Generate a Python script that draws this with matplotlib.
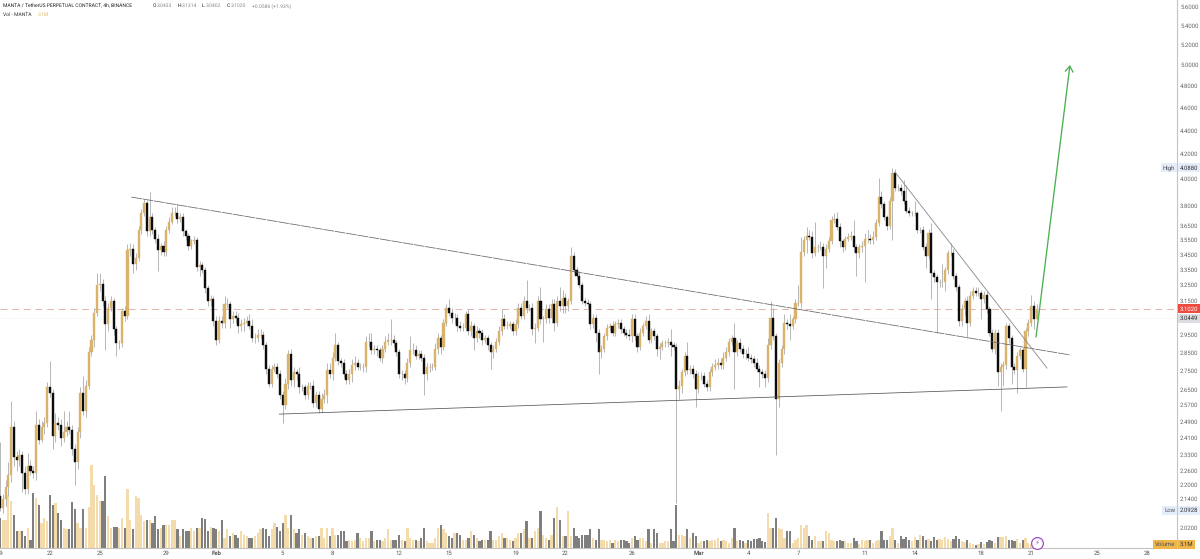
import numpy as np
import matplotlib
matplotlib.use('Agg')
import matplotlib.pyplot as plt

plt.rcParams['font.family'] = ['Roboto', 'DejaVu Sans']
# tiny labels lose their decimal points when hinted
plt.rcParams['text.hinting'] = 'no_hinting'
plt.rcParams['text.hinting_factor'] = 1

# MANTA/USDT 4h closes, six candles a day starting at 19 Jan 00:00
closes = [
  2.10,2.14,2.19,2.24,2.46,2.32,2.31,2.33,2.25,2.18,
  2.28,2.26,2.25,2.47,2.40,2.46,2.48,2.66,2.63,2.42,
  2.48,2.47,2.41,2.44,2.46,2.45,2.36,2.30,2.44,2.63,
  2.54,2.67,2.85,2.92,3.08,3.25,3.26,3.15,3.01,3.11,
  3.15,2.98,2.90,2.90,3.09,3.06,3.48,3.49,3.39,3.43,
  3.62,3.74,3.82,3.61,3.71,3.62,3.56,3.48,3.51,3.47,
  3.62,3.68,3.74,3.74,3.70,3.71,3.61,3.58,3.51,3.54,
  3.55,3.37,3.38,3.35,3.23,3.15,3.16,3.03,2.92,3.03,
  3.02,3.13,3.13,3.04,3.06,3.05,3.00,3.01,3.02,3.03,
  3.00,2.93,2.93,2.95,2.95,2.89,2.76,2.68,2.76,2.77,
  2.73,2.62,2.57,2.68,2.84,2.70,2.74,2.73,2.66,2.66,
  2.62,2.67,2.67,2.58,2.62,2.55,2.60,2.62,2.75,2.73,
  2.82,2.89,2.80,2.79,2.73,2.70,2.73,2.78,2.79,2.77,
  2.77,2.77,2.91,2.91,2.86,2.87,2.86,2.82,2.87,2.91,
  2.92,2.92,2.90,2.85,2.73,2.73,2.71,2.79,2.86,2.86,
  2.83,2.84,2.82,2.73,2.77,2.77,2.77,2.87,2.93,2.88,
  3.02,3.11,3.08,3.05,3.05,3.00,2.99,2.99,3.07,2.97,
  3.00,2.93,2.97,2.96,2.92,2.93,2.89,2.85,2.87,2.91,
  2.97,3.04,3.00,3.00,3.01,2.97,3.01,3.11,3.06,3.15,
  3.11,3.11,2.98,2.99,3.15,3.04,3.04,3.10,3.05,3.13,
  3.02,3.15,3.12,3.17,3.12,3.15,3.44,3.35,3.31,3.25,
  3.15,3.14,3.13,3.01,3.05,2.96,2.85,2.87,2.94,2.99,
  3.00,2.96,3.01,3.02,2.98,2.96,2.95,2.94,3.04,2.94,
  2.88,2.96,3.00,3.03,2.92,2.97,2.94,2.87,2.88,2.90,
  2.90,2.91,2.89,2.88,2.65,2.67,2.74,2.83,2.75,2.76,
  2.73,2.65,2.72,2.72,2.68,2.66,2.74,2.77,2.78,2.79,
  2.78,2.82,2.85,2.91,2.93,2.85,2.90,2.87,2.84,2.84,
  2.82,2.81,2.79,2.76,2.74,2.73,2.71,2.89,3.05,2.94,
  2.60,2.79,2.87,3.02,3.01,3.00,3.04,3.14,3.14,3.47,
  3.55,3.58,3.57,3.46,3.50,3.50,3.50,3.44,3.49,3.54,
  3.69,3.70,3.64,3.54,3.50,3.56,3.57,3.58,3.50,3.46,
  3.50,3.51,3.56,3.56,3.55,3.57,3.67,3.86,3.81,3.71,
  3.65,3.83,4.05,3.93,3.93,3.91,3.83,3.76,3.74,3.74,
  3.74,3.62,3.62,3.50,3.44,3.60,3.33,3.30,3.27,3.27,
  3.27,3.35,3.46,3.46,3.31,3.24,3.03,3.10,3.15,3.02,
  3.18,3.21,3.20,3.20,3.16,3.19,3.10,2.96,2.87,2.96,
  2.74,2.77,2.78,3.00,2.93,2.77,2.75,2.83,2.86,2.76,
  2.97,3.02,3.12,3.043,3.102]
first_open = 2.15

# wick lengths above and below the body, in hundredths of a dollar
wick_up = [
  24,2,3,6,13,3,3,3,2,3,
  6,3,2,7,3,3,3,3,14,2,
  5,3,3,10,3,8,2,2,2,3,
  9,3,3,3,3,8,7,3,3,3,
  3,2,2,2,2,3,4,4,3,3,
  3,3,3,2,19,3,2,3,2,3,
  3,3,5,5,7,3,3,2,2,2,
  3,2,3,2,2,2,3,2,3,3,
  3,5,4,2,3,3,3,3,3,3,
  4,4,3,3,3,2,2,2,2,2,
  2,2,2,3,2,3,3,2,4,2,
  2,2,2,3,2,2,3,3,4,4,
  3,7,2,2,2,2,3,3,4,2,
  2,2,3,5,5,2,2,2,2,3,
  4,12,3,2,2,2,2,3,8,4,
  3,2,2,2,2,2,2,3,3,2,
  2,2,5,3,3,2,3,3,2,3,
  3,2,3,2,2,2,2,2,2,2,
  3,6,3,3,2,2,3,3,3,3,
  13,2,3,3,3,9,2,3,3,3,
  3,3,9,5,3,2,6,3,2,3,
  2,2,2,2,2,2,2,2,2,2,
  2,3,2,2,2,2,2,3,3,3,
  2,3,2,3,4,2,2,2,2,2,
  2,2,7,2,2,3,2,2,8,2,
  2,2,2,2,2,2,2,2,3,3,
  3,3,3,2,2,9,2,3,2,3,
  4,2,2,3,2,2,2,4,10,6,
  2,2,2,5,2,6,2,2,11,10,
  3,6,4,4,18,2,4,3,3,3,
  3,4,5,3,2,2,3,3,11,2,
  2,3,4,6,3,4,3,15,5,2,
  2,3,4,3,3,3,8,12,3,2,
  9,2,2,3,3,3,7,2,2,2,
  12,2,2,7,3,2,2,3,2,3,
  3,3,3,4,2,2,2,2,2,2,
  2,2,2,2,2,2,2,2,2,2,
  2,2,7,3,3]
wick_dn = [
  1,2,3,4,3,4,5,3,8,2,
  2,2,2,3,2,1,3,2,2,6,
  3,2,4,2,2,2,3,10,3,3,
  2,3,2,2,4,2,4,3,15,4,
  2,3,7,3,2,3,2,4,6,4,
  2,3,2,3,3,3,3,14,3,3,
  3,2,2,2,3,2,3,3,3,2,
  2,3,6,2,3,3,3,3,3,2,
  3,3,2,5,2,3,4,3,4,2,
  2,2,3,2,2,2,3,2,2,2,
  2,2,9,2,3,3,4,3,3,2,
  2,2,2,2,2,2,2,2,4,2,
  3,2,2,2,2,2,2,4,3,2,
  2,3,3,3,2,2,3,2,3,2,
  2,3,2,2,2,3,3,2,2,2,
  2,2,2,11,3,3,2,2,3,4,
  2,2,2,3,4,3,2,2,2,2,
  3,7,2,3,3,2,3,9,3,2,
  2,2,2,2,2,2,2,2,2,2,
  3,2,3,8,2,3,13,2,3,3,
  5,2,3,4,4,3,2,2,2,2,
  2,2,2,3,2,5,12,3,2,2,
  2,2,2,2,2,2,2,2,3,2,
  3,2,2,2,2,2,2,4,6,2,
  2,2,6,2,53,5,4,2,2,2,
  2,9,2,2,2,2,2,2,2,2,
  2,2,2,2,2,20,2,2,2,3,
  2,2,2,2,8,2,5,2,2,2,
  27,4,2,3,3,8,2,2,2,3,
  3,9,2,3,2,3,2,21,8,2,
  2,2,2,4,3,2,2,2,3,15,
  3,3,24,3,3,3,2,2,3,2,
  3,2,28,2,2,3,2,2,2,2,
  2,2,2,2,8,2,17,3,31,3,
  3,6,3,2,2,3,3,3,4,9,
  2,2,2,2,12,2,2,2,2,3,
  7,20,10,2,3,9,2,12,2,2,
  10,3,2,6,0]

# volume per candle, millions
volumes = [
  45,42,42,80,70,50,25,25,25,18,
  30,12,82,75,65,38,45,40,79,65,
  68,52,42,30,28,28,69,58,38,30,
  58,30,62,125,95,80,70,70,108,48,
  30,32,32,30,45,30,88,42,28,78,
  75,50,40,42,42,38,48,28,30,35,
  35,35,42,42,28,18,28,25,25,30,
  25,30,30,45,44,25,32,30,28,25,
  42,15,28,18,22,20,15,25,20,18,
  15,15,18,22,28,30,28,18,28,38,
  32,25,38,50,30,50,28,22,28,20,
  22,18,15,15,18,18,30,15,30,18,
  30,20,20,25,25,10,12,10,12,22,
  15,10,15,15,25,10,12,12,10,15,
  28,12,12,12,20,12,10,30,15,12,
  12,10,15,30,10,8,8,15,30,35,
  28,22,18,15,22,22,20,12,12,15,
  25,20,15,10,12,12,12,25,12,12,
  18,22,15,15,12,10,15,22,22,28,
  40,15,15,25,30,55,20,15,12,20,
  45,62,42,18,18,55,18,30,18,15,
  20,20,20,28,15,12,28,12,12,10,
  12,8,12,10,12,12,10,8,15,18,
  12,15,15,10,28,8,28,22,8,8,
  10,10,28,10,65,20,20,18,28,15,
  22,18,8,10,10,12,10,12,12,15,
  10,12,10,8,15,30,10,12,10,8,
  12,10,14,14,15,10,9,52,30,30,
  45,30,28,15,26,26,8,12,15,35,
  30,34,18,12,18,10,10,10,25,22,
  12,10,10,12,11,10,8,8,15,11,
  6,12,10,12,12,8,10,12,25,12,
  12,18,30,12,8,18,14,16,12,10,
  16,12,20,18,12,14,10,16,12,14,
  12,16,14,10,14,18,14,10,9,12,
  8,6,4,6,9,6,9,12,10,8,
  16,16,17,18,12,12,11,14,8,12,
  15,8,6,5,3.1]

# date ticks, days after 19 Jan
tick_days = [0,3,6,10,13,17,20,24,27,31,34,38,42,45,48,52,55,59,62,66,69]
tick_names = ['19','22','25','29','Feb','5','8','12','15','19','22','26','Mar','4','7','11','14','18','21','25','28']

price_ticks = [5.6,5.4,5.2,5.0,4.8,4.6,4.4,4.2,4.0,3.8,3.65,3.55,3.45,3.35,3.25,3.15,
               2.95,2.85,2.75,2.65,2.57,2.49,2.41,2.33,2.26,2.20,2.14,2.02]

# drawn lines: (day, price) at each end
upper_line = ([7.9, 64.34], [3.861, 2.835])
lower_line = ([16.8, 64.16], [2.525, 2.663])
down_line = ([53.82, 62.96], [4.055, 2.763])
target_arrow = ([62.3, 64.34], [2.936, 5.0])

last_price = 3.102
prev_close = 3.0449
high_price = 4.088
low_price = 2.0928

TAN = '#d9b26c'
BLACK = '#0c0c0c'
WICK = '#ababab'
VOL_TAN = '#f3dbab'
VOL_GRAY = '#7f7f7f'

WIDTH, HEIGHT = 1200, 559
AXIS_X, AXIS_Y = 1177, 548
SMALL = 4.0

fig = plt.figure(figsize=(WIDTH / 100, HEIGHT / 100), dpi=100, facecolor='white')
rect = [0, 1 - AXIS_Y / HEIGHT, AXIS_X / WIDTH, AXIS_Y / HEIGHT]

closes = np.array(closes)
opens = np.r_[first_open, closes[:-1]]
days = np.arange(len(closes)) / 6
highs = np.maximum(opens, closes) + np.array(wick_up) / 100
lows = np.minimum(opens, closes) - np.array(wick_dn) / 100
rising = closes >= opens

xlim = (0, AXIS_X / 16.63)
ylim = (1.943, 5.678)

# volume sits in its own axes under the candles
vol_ax = fig.add_axes(rect, zorder=0)
vol_ax.bar(days, volumes, width=0.135, linewidth=0,
           color=[VOL_TAN if r else VOL_GRAY for r in rising])
vol_ax.set_xlim(xlim)
vol_ax.set_ylim(0, AXIS_Y * 1.5)
vol_ax.axis('off')

ax = fig.add_axes(rect, zorder=1)
ax.patch.set_alpha(0)
ax.set_yscale('log')
ax.set_xlim(xlim)
ax.set_ylim(ylim)

ax.axhline(last_price, color='#e0b4a8', lw=0.7, ls=(0, (7, 5)), zorder=1)
ax.axhline(prev_close, color='#ececec', lw=0.5, ls=(0, (2, 2)), zorder=1)

ax.vlines(days, lows, highs, color=WICK, lw=0.6, zorder=2)
tops = np.maximum(opens, closes)
bottoms = np.minimum(opens, closes)
body_colors = [TAN if r else BLACK for r in rising]
ax.bar(days, tops - bottoms, bottom=bottoms, width=0.125,
       color=body_colors, edgecolor=body_colors, linewidth=0.3, zorder=3)

ax.plot(*upper_line, color='#666666', lw=0.55, ls=(0, (14, 1)), zorder=4)
ax.plot(*lower_line, color='#555555', lw=0.55, zorder=4)
ax.plot(*down_line, color='#888888', lw=0.6, zorder=4)
ax.annotate('', xy=(target_arrow[0][1], target_arrow[1][1]),
            xytext=(target_arrow[0][0], target_arrow[1][0]),
            arrowprops=dict(arrowstyle='->,head_length=0.4,head_width=0.28', color='#4caf50',
                            lw=0.95, shrinkA=0, shrinkB=0), zorder=5)

# axes furniture
for name in ['top', 'left']:
  ax.spines[name].set_visible(False)
for name in ['right', 'bottom']:
  ax.spines[name].set_color('#c4c4c4')
  ax.spines[name].set_linewidth(0.8)
ax.yaxis.tick_right()
ax.set_yticks(price_ticks)
ax.set_yticklabels(['%.4f' % p for p in price_ticks])
ax.minorticks_off()
ax.tick_params(axis='y', length=0, pad=2.2, labelsize=SMALL, labelcolor='#666666')
ax.set_xticks(tick_days)
ax.set_xticklabels(tick_names)
ax.tick_params(axis='x', length=0, pad=1.5, labelsize=SMALL, labelcolor='#555555')
for label in ax.get_xticklabels():
  if label.get_text() in ('Feb', 'Mar'):
    label.set_fontweight('bold')

# boxed values on the price scale
def price_tag(price, text, face, color, name=None, name_face=None, name_color='#555555'):
  trans = ax.get_yaxis_transform()
  ax.text(1.0022, price, text, transform=trans, fontsize=SMALL, color=color, va='center', ha='left',
          bbox=dict(boxstyle='square,pad=0.3', fc=face, ec='none'), zorder=8, clip_on=False)
  if name:
    ax.text(0.9985, price, name, transform=trans, fontsize=SMALL, color=name_color, va='center', ha='right',
            bbox=dict(boxstyle='square,pad=0.3', fc=name_face, ec='none'), zorder=8, clip_on=False)

price_tag(last_price, '3.1020', '#ee4b3f', 'white')
price_tag(prev_close, '3.0449', '#dcdde0', '#333333')
price_tag(high_price, '4.0880', '#e4edf9', '#333333', 'High', '#e4edf9')
price_tag(low_price, '2.0928', '#e4edf9', '#333333', 'Low', '#e4edf9')
price_tag(1.956, '3.1M', '#f0b64a', '#333333', 'Volume', '#f0b64a')

# dividend style marker on the time scale
ax.plot([62.35], [1.962], 'o', ms=8.5, mfc='white', mec='#9c4fc4', mew=0.9, zorder=9, clip_on=False)
ax.text(62.35, 1.962, '\u26a1', fontsize=5, color='#9c4fc4', ha='center', va='center', zorder=10,
        family=['DejaVu Sans'])

# header lines
fig.text(3 / WIDTH, 1 - 6 / HEIGHT, 'MANTA / TetherUS PERPETUAL CONTRACT, 4h, BINANCE', fontsize=3.95,
         color='#222222', ha='left', va='center')
ohlc = [('O', '3.0433', 153), ('H', '3.1314', 178), ('L', '3.0402', 202), ('C', '3.1020', 227)]
for letter, value, x in ohlc:
  fig.text(x / WIDTH, 1 - 6 / HEIGHT, letter, fontsize=3.95, color='#222222', ha='left', va='center')
  fig.text((x + 3.5) / WIDTH, 1 - 6 / HEIGHT, value, fontsize=3.95, color='#8a8a8a', ha='left', va='center')
fig.text(252 / WIDTH, 1 - 6 / HEIGHT, '+0.0586 (+1.93%)', fontsize=3.95, color='#8a8a8a', ha='left', va='center')
fig.text(3 / WIDTH, 1 - 14.5 / HEIGHT, 'Vol - MANTA', fontsize=3.95, color='#333333', ha='left', va='center')
fig.text(38 / WIDTH, 1 - 14.5 / HEIGHT, '3.1M', fontsize=3.95, color='#e3bd6e', ha='left', va='center')

fig.savefig('out.png', dpi=100)
